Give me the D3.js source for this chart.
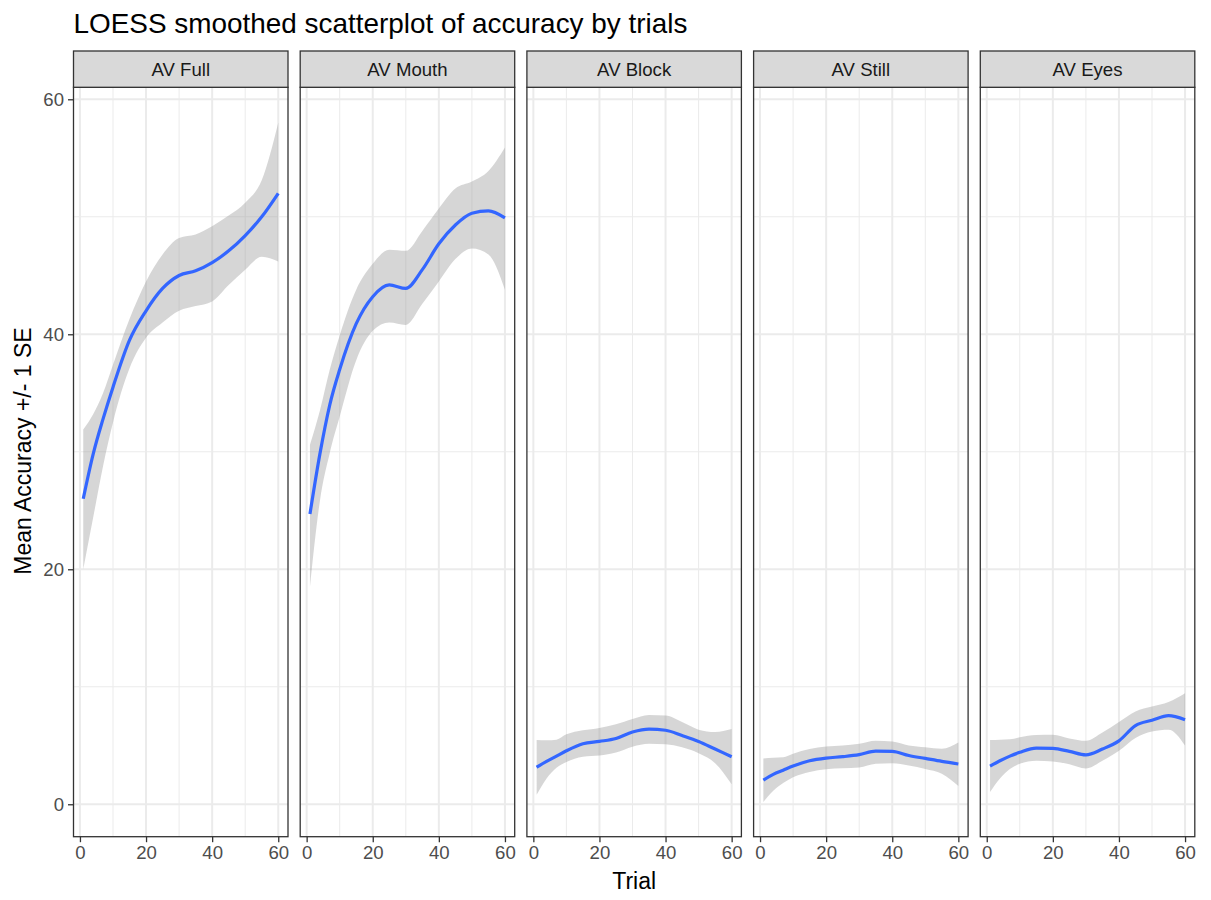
<!DOCTYPE html>
<html>
<head>
<meta charset="utf-8">
<script src="https://cdn.jsdelivr.net/npm/d3@7"></script>
<style>
  body { margin: 0; background: #fff; }
  text { font-family: "Liberation Sans", Arial, sans-serif; }
</style>
</head>
<body>
<div id="chart"></div>
<script>
// values (LOESS fit and +/- 1 SE band)
var panels = ["AV Full", "AV Mouth", "AV Block", "AV Still", "AV Eyes"];
var trials = [1, 4, 7, 10, 15, 20, 25, 30, 35, 40, 45, 50, 55, 60];
var xTicks = [0, 20, 40, 60];
var yTicks = [0, 20, 40, 60];

var fitFull  = [26.0, 29.8, 32.8, 35.5, 39.5, 42.0, 43.9, 45.0, 45.4, 46.1, 47.1, 48.4, 50.0, 52.0];
var upFull   = [31.9, 33.2, 35.0, 37.4, 41.3, 44.5, 46.8, 48.2, 48.5, 49.2, 50.1, 51.2, 53.1, 58.0];
var lowFull  = [20.0, 24.4, 28.8, 32.5, 37.1, 39.7, 41.0, 42.0, 42.4, 42.8, 44.2, 45.5, 46.6, 46.2];

var fitMouth = [24.7, 29.8, 34.0, 37.0, 40.9, 43.2, 44.2, 43.9, 45.5, 47.7, 49.3, 50.3, 50.5, 49.9];
var upMouth  = [30.6, 33.5, 37.0, 39.9, 43.8, 46.0, 47.2, 47.1, 48.8, 50.7, 52.4, 53.0, 53.9, 55.9];
var lowMouth = [18.5, 25.8, 29.9, 33.0, 37.8, 40.3, 41.0, 40.8, 42.6, 44.5, 46.4, 47.3, 46.8, 43.8];

var fitBlock = [3.15, 3.65, 4.10, 4.55, 5.15, 5.35, 5.60, 6.15, 6.40, 6.30, 5.85, 5.35, 4.70, 4.05];
var upBlock  = [5.47, 5.45, 5.50, 5.95, 6.30, 6.50, 6.80, 7.25, 7.60, 7.55, 7.00, 6.35, 6.15, 6.40];
var lowBlock = [0.80, 2.20, 3.10, 3.60, 4.05, 4.15, 4.40, 4.90, 5.15, 5.10, 4.85, 4.35, 3.50, 1.70];

var fitStill = [2.05, 2.55, 2.90, 3.25, 3.70, 3.93, 4.05, 4.22, 4.52, 4.50, 4.15, 3.90, 3.65, 3.43];
var upStill  = [3.90, 3.95, 4.00, 4.30, 4.70, 4.92, 5.00, 5.15, 5.40, 5.35, 5.00, 4.85, 4.72, 5.25];
var lowStill = [0.20, 1.15, 1.80, 2.30, 2.75, 2.98, 3.06, 3.13, 3.45, 3.50, 3.30, 3.00, 2.60, 1.55];

var fitEyes  = [3.25, 3.70, 4.10, 4.42, 4.78, 4.75, 4.50, 4.20, 4.70, 5.40, 6.70, 7.15, 7.55, 7.20];
var upEyes   = [5.47, 5.50, 5.53, 5.70, 5.90, 5.92, 5.60, 5.40, 6.10, 7.00, 7.90, 8.32, 8.70, 9.45];
var lowEyes  = [1.05, 2.20, 3.00, 3.45, 3.70, 3.65, 3.40, 3.05, 3.70, 4.55, 5.65, 6.20, 6.35, 5.00];

var fits = [fitFull, fitMouth, fitBlock, fitStill, fitEyes];
var uppers = [upFull, upMouth, upBlock, upStill, upEyes];
var lowers = [lowFull, lowMouth, lowBlock, lowStill, lowEyes];

var width = 1211, height = 900;
var panelLeft = 73.5, panelW = 214.5, panelGap = 12.2;
var stripTop = 51, stripH = 36.3, panelTop = 87.3, panelBottom = 836.7;
var fontFam = "'Liberation Sans', Arial, sans-serif";

var svg = d3.select("#chart").append("svg")
    .attr("width", width)
    .attr("height", height);

var x = d3.scaleLinear().domain([-1.95, 62.95]).range([0, panelW]);
var y = d3.scaleLinear().domain([-2.76, 61.02]).range([panelBottom, panelTop]);

svg.append("text")
    .attr("x", 73.5).attr("y", 33.3)
    .attr("font-size", "27.9px")
    .attr("fill", "#000")
    .text("LOESS smoothed scatterplot of accuracy by trials");

panels.forEach(function(name, p) {
    var px = panelLeft + p * (panelW + panelGap);
    var g = svg.append("g").attr("transform", "translate(" + px + ",0)");

    // minor grid
    g.selectAll(".minorx").data([10, 30, 50]).enter().append("line")
        .attr("x1", function(d) { return x(d); }).attr("x2", function(d) { return x(d); })
        .attr("y1", panelTop).attr("y2", panelBottom)
        .attr("stroke", "#EBEBEB").attr("stroke-width", 1);
    g.selectAll(".minory").data([10, 30, 50]).enter().append("line")
        .attr("x1", 0).attr("x2", panelW)
        .attr("y1", function(d) { return y(d); }).attr("y2", function(d) { return y(d); })
        .attr("stroke", "#EBEBEB").attr("stroke-width", 1);
    // major grid
    g.selectAll(".majorx").data(xTicks).enter().append("line")
        .attr("x1", function(d) { return x(d); }).attr("x2", function(d) { return x(d); })
        .attr("y1", panelTop).attr("y2", panelBottom)
        .attr("stroke", "#EBEBEB").attr("stroke-width", 2);
    g.selectAll(".majory").data(yTicks).enter().append("line")
        .attr("x1", 0).attr("x2", panelW)
        .attr("y1", function(d) { return y(d); }).attr("y2", function(d) { return y(d); })
        .attr("stroke", "#EBEBEB").attr("stroke-width", 2);

    var idx = d3.range(trials.length);
    var area = d3.area()
        .x(function(i) { return x(trials[i]); })
        .y0(function(i) { return y(lowers[p][i]); })
        .y1(function(i) { return y(uppers[p][i]); })
        .curve(d3.curveMonotoneX);
    g.append("path")
        .attr("d", area(idx))
        .attr("fill", "#999999").attr("fill-opacity", 0.4);

    var line = d3.line()
        .x(function(i) { return x(trials[i]); })
        .y(function(i) { return y(fits[p][i]); })
        .curve(d3.curveMonotoneX);
    g.append("path")
        .attr("d", line(idx))
        .attr("fill", "none")
        .attr("stroke", "#3366FF")
        .attr("stroke-width", 3.2);

    // panel border
    g.append("rect")
        .attr("x", 0).attr("y", panelTop)
        .attr("width", panelW).attr("height", panelBottom - panelTop)
        .attr("fill", "none").attr("stroke", "#333333").attr("stroke-width", 1.3);

    // strip
    g.append("rect")
        .attr("x", 0).attr("y", stripTop)
        .attr("width", panelW).attr("height", stripH)
        .attr("fill", "#D9D9D9").attr("stroke", "#333333").attr("stroke-width", 1.3);
    g.append("text")
        .attr("x", panelW / 2).attr("y", stripTop + stripH / 2)
        .attr("dy", "0.35em")
        .attr("text-anchor", "middle")
        .attr("font-size", "18.6px")
        .attr("fill", "#1A1A1A")
        .text(name);

    // x axis
    var xa = g.append("g").attr("transform", "translate(0," + panelBottom + ")")
        .call(d3.axisBottom(x).tickValues(xTicks).tickSize(5.5).tickPadding(4).tickFormat(d3.format("d")));
    xa.select(".domain").remove();
    xa.selectAll("line").attr("stroke", "#333333").attr("stroke-width", 1.3);
    xa.selectAll("text").attr("fill", "#4D4D4D").attr("font-size", "18.6px")
        .style("font-family", fontFam);

    if (p === 0) {
        var ya = g.append("g")
            .call(d3.axisLeft(y).tickValues(yTicks).tickSize(5.5).tickPadding(4).tickFormat(d3.format("d")));
        ya.select(".domain").remove();
        ya.selectAll("line").attr("stroke", "#333333").attr("stroke-width", 1.3);
        ya.selectAll("text").attr("fill", "#4D4D4D").attr("font-size", "18.6px")
            .style("font-family", fontFam);
    }
});

svg.append("text")
    .attr("x", panelLeft + (5 * panelW + 4 * panelGap) / 2)
    .attr("y", 889)
    .attr("text-anchor", "middle")
    .attr("font-size", "23px")
    .attr("fill", "#000")
    .text("Trial");

svg.append("text")
    .attr("transform", "translate(31,451) rotate(-90)")
    .attr("text-anchor", "middle")
    .attr("font-size", "23px")
    .attr("fill", "#000")
    .text("Mean Accuracy +/- 1 SE");
</script>
</body>
</html>
